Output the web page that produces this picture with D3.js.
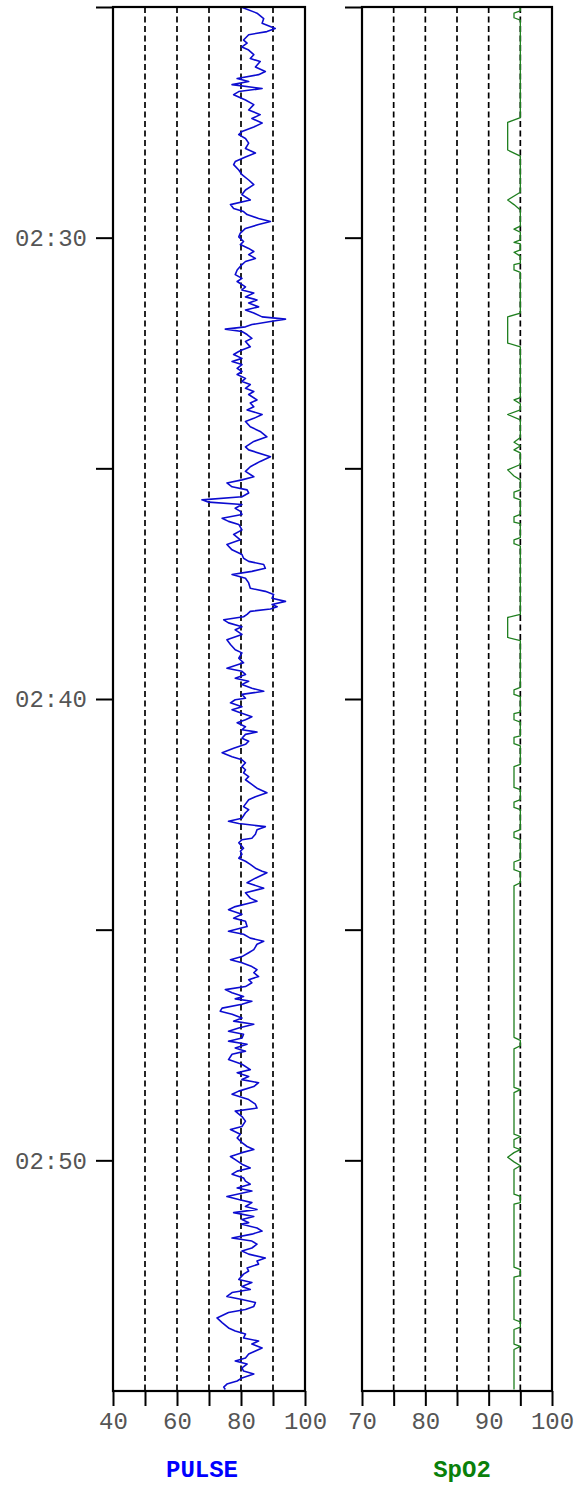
<!DOCTYPE html>
<html><head><meta charset="utf-8">
<script src="https://cdn.jsdelivr.net/npm/d3@7"></script>
<style>html,body{margin:0;padding:0;background:#fff;} svg{display:block}</style>
</head><body>
<svg id="chart" width="575" height="1485"></svg>
<script>
// ---- data ----
const timeStart = "02:25:00";
const timeEnd = "02:55:00";
const timeTicks = ["02:25:00","02:30:00","02:35:00","02:40:00","02:45:00","02:50:00"];
const timeLabels = ["02:30","02:40","02:50"];

const pulseDomain = [40, 100];
const pulseTicks = [40, 50, 60, 70, 80, 90, 100];
const pulseTickLabels = [40, 60, 80, 100];
const pulseGrid = [50, 60, 70, 80, 90];

const spo2Domain = [70, 100];
const spo2Ticks = [70, 75, 80, 85, 90, 95, 100];
const spo2TickLabels = [70, 80, 90, 100];
const spo2Grid = [75, 80, 85, 90, 95];

const seriesNames = ["PULSE", "SpO2"];

// [seconds after 02:25:00, beats per minute]
const pulseData = [
[0,80.0],[8,85.0],[15,87.1],[21,86.6],[28,90.7],[32,88.1],[36,82.4],[43,80.8],[47,81.9],[52,80.3],
[56,82.4],[62,84.0],[67,82.9],[71,86.0],[78,84.5],[84,87.6],[88,85.5],[93,78.8],[97,82.4],[101,77.2],
[106,86.6],[110,79.3],[114,77.7],[121,81.4],[127,84.0],[134,82.4],[140,86.0],[145,83.4],[151,86.6],[156,84.0],
[162,80.3],[166,79.3],[171,81.4],[177,82.4],[184,81.4],[190,84.5],[195,81.4],[201,78.2],[205,77.7],[212,79.3],
[218,80.3],[225,82.4],[231,84.0],[238,81.4],[244,80.3],[251,82.9],[257,76.7],[262,77.7],[266,80.8],[270,81.9],
[275,85.5],[279,89.2],[283,85.5],[288,81.4],[294,79.8],[299,79.3],[305,80.8],[309,79.8],[314,82.4],[318,84.0],
[322,82.4],[327,84.5],[331,81.4],[335,80.3],[342,78.8],[348,78.2],[353,80.3],[357,78.8],[364,81.4],[368,80.3],
[372,84.0],[377,81.4],[381,85.0],[385,82.4],[390,85.5],[394,81.4],[398,84.0],[403,86.6],[406,93.9],[409,89.2],
[413,83.4],[416,81.4],[419,75.1],[422,80.3],[426,81.9],[431,83.4],[435,81.4],[442,82.9],[446,80.3],[448,79.3],
[452,77.7],[457,80.3],[461,77.2],[465,80.3],[470,78.8],[474,80.3],[478,78.8],[483,81.4],[487,80.3],[491,82.9],
[496,81.4],[500,84.0],[504,82.4],[511,85.0],[515,82.9],[520,84.0],[524,81.9],[530,86.6],[535,84.0],[539,81.4],
[546,82.9],[552,86.0],[559,88.1],[565,84.0],[572,81.4],[576,82.4],[585,89.2],[591,86.0],[598,82.9],[604,81.4],
[611,84.0],[615,80.3],[619,75.6],[624,77.2],[628,81.9],[632,82.4],[637,80.3],[641,67.8],[644,69.9],[647,80.3],
[652,78.2],[656,79.8],[660,80.3],[665,74.1],[669,76.1],[673,79.3],[680,80.3],[686,77.7],[693,79.8],[699,75.6],
[706,77.2],[712,80.3],[717,80.8],[721,82.4],[725,87.1],[730,87.6],[734,83.4],[738,77.2],[743,81.4],[749,82.4],
[756,82.9],[760,87.6],[764,90.2],[769,89.7],[773,93.9],[777,89.7],[780,91.3],[783,89.2],[786,82.9],[790,81.9],
[793,80.8],[797,74.6],[801,76.1],[806,80.3],[810,78.2],[816,80.3],[823,75.6],[829,76.7],[836,78.2],[840,80.3],
[847,79.3],[853,80.8],[860,75.6],[864,80.3],[868,81.4],[873,78.2],[877,82.4],[881,80.3],[886,83.4],[890,87.1],
[894,80.3],[899,81.4],[901,78.2],[905,76.7],[910,80.3],[914,77.2],[918,79.8],[923,83.4],[927,81.4],[931,78.8],
[936,81.4],[940,80.3],[943,85.0],[946,81.4],[951,80.3],[955,82.4],[959,81.4],[964,77.7],[970,74.1],[975,77.2],
[979,80.3],[983,81.4],[988,80.3],[992,81.4],[996,80.8],[1001,82.4],[1005,81.4],[1011,83.4],[1016,85.0],[1022,88.1],
[1027,84.5],[1031,82.4],[1040,80.8],[1044,82.4],[1048,81.4],[1055,80.3],[1059,76.1],[1062,79.3],[1066,87.6],[1070,85.0],
[1076,84.5],[1081,83.4],[1083,80.3],[1087,79.3],[1094,80.8],[1098,79.8],[1102,80.3],[1107,79.3],[1111,81.4],[1115,82.9],
[1120,84.5],[1124,86.6],[1126,88.1],[1133,84.5],[1139,81.9],[1146,87.1],[1152,81.4],[1159,82.9],[1163,85.0],[1170,78.2],
[1174,76.1],[1180,80.3],[1185,77.7],[1189,81.4],[1196,81.9],[1202,76.1],[1206,80.8],[1211,82.9],[1215,87.1],[1219,85.0],
[1226,84.0],[1230,82.4],[1235,80.3],[1239,76.7],[1243,80.3],[1248,83.4],[1252,85.0],[1256,84.0],[1261,85.5],[1265,82.4],
[1269,83.4],[1274,81.4],[1278,75.1],[1282,77.2],[1287,80.8],[1290,78.2],[1293,83.4],[1297,80.3],[1302,74.1],[1306,73.5],
[1310,77.2],[1315,80.3],[1319,77.7],[1323,84.0],[1328,79.3],[1332,76.1],[1336,80.8],[1341,80.3],[1345,76.1],[1349,81.9],
[1354,78.2],[1358,81.4],[1362,77.2],[1369,76.1],[1375,80.3],[1382,82.9],[1386,78.8],[1391,82.4],[1395,80.3],[1399,85.5],
[1404,84.0],[1410,79.3],[1414,77.2],[1421,82.4],[1427,84.5],[1432,85.0],[1436,78.2],[1443,80.3],[1449,81.4],[1456,80.3],
[1460,76.7],[1466,79.8],[1471,78.8],[1477,80.3],[1482,81.9],[1486,84.0],[1490,80.3],[1495,76.7],[1499,78.2],[1505,80.3],
[1510,82.9],[1514,78.8],[1518,77.2],[1523,80.8],[1527,81.4],[1531,82.9],[1536,78.8],[1540,83.4],[1547,75.6],[1551,79.3],
[1555,83.4],[1560,81.4],[1564,85.0],[1568,77.7],[1573,84.0],[1577,80.3],[1581,82.4],[1583,80.3],[1588,85.0],[1592,86.6],
[1596,83.4],[1601,77.2],[1605,83.4],[1609,85.0],[1614,83.4],[1618,80.3],[1622,82.4],[1627,87.6],[1631,85.0],[1635,85.5],
[1640,81.9],[1644,82.4],[1648,80.8],[1655,79.3],[1659,83.4],[1664,80.3],[1668,82.9],[1672,77.2],[1677,75.6],[1681,80.3],
[1685,84.5],[1690,84.0],[1694,81.4],[1698,76.1],[1705,72.5],[1711,74.1],[1718,76.1],[1722,78.2],[1726,81.4],[1731,80.8],
[1735,85.5],[1739,83.4],[1744,86.6],[1748,84.5],[1752,82.4],[1757,81.4],[1761,78.2],[1765,81.9],[1770,80.3],[1774,80.8],
[1778,84.0],[1783,80.3],[1787,78.8],[1791,75.6],[1795,74.6],[1798,75.1]
];

// [seconds after 02:25:00, percent]
const spo2Data = [
[0,95],[5,95],[8,94],[14,94],[17,95],[144,95],[150,93],[186,93],[190,94],[194,95],
[241,95],[251,93],[257,94],[264,95],[285,95],[289,94],[293,95],[303,95],[306,94],[308,95],
[316,95],[319,94],[324,95],[333,95],[335,94],[342,94],[345,95],[398,95],[403,93],[437,93],
[442,95],[508,95],[511,94],[516,95],[524,95],[530,93],[537,95],[560,95],[566,94],[571,95],
[576,94],[580,95],[595,95],[602,93],[610,94],[615,95],[628,95],[631,94],[638,94],[641,95],
[660,95],[663,94],[670,94],[672,95],[690,95],[693,94],[698,94],[701,95],[790,95],[794,93],
[820,93],[824,95],[885,95],[888,94],[894,94],[897,95],[917,95],[919,94],[927,94],[930,95],
[948,95],[950,94],[958,94],[961,95],[985,95],[988,94],[1015,94],[1018,95],[1031,95],[1034,94],
[1041,94],[1044,95],[1070,95],[1073,94],[1080,94],[1083,95],[1109,95],[1112,94],[1122,94],[1125,95],
[1139,95],[1143,94],[1340,94],[1344,95],[1351,95],[1355,94],[1405,94],[1408,95],[1412,94],[1466,94],
[1469,95],[1473,94],[1483,94],[1486,95],[1490,94],[1496,93],[1502,94],[1507,95],[1512,94],[1544,94],
[1547,95],[1555,95],[1557,94],[1639,94],[1642,95],[1650,95],[1652,94],[1707,94],[1710,95],[1717,95],
[1720,94],[1739,94],[1742,95],[1746,94],[1798,94]
];

// ---- drawing ----
const svg = d3.select("#chart");
const parseT = d3.timeParse("%H:%M:%S");
const t0 = parseT(timeStart);
const t1 = parseT(timeEnd);
const toDate = s => new Date(t0.getTime() + s * 1000);
const fmt = d3.timeFormat("%H:%M");

const yTop = 7, yBottom = 1391;
const y = d3.scaleTime().domain([t0, t1]).range([yTop, yBottom]);

const panels = [
  {name: seriesNames[0], x: d3.scaleLinear().domain(pulseDomain).range([113, 305]),
   ticks: pulseTicks, labels: pulseTickLabels, grid: pulseGrid, data: pulseData,
   color: "#0c0cd0", width: 1.6, labelColor: "#0000ff", showTimeLabels: true, titleX: 202},
  {name: seriesNames[1], x: d3.scaleLinear().domain(spo2Domain).range([362, 552]),
   ticks: spo2Ticks, labels: spo2TickLabels, grid: spo2Grid, data: spo2Data,
   color: "#1f7f1f", width: 1.3, labelColor: "#0a800a", showTimeLabels: false, titleX: 462}
];

const font = "'Liberation Mono', 'DejaVu Sans Mono', monospace";
const defs = svg.append("defs");

panels.forEach((p, i) => {
  const g = svg.append("g");
  const [x0, x1] = p.x.range();
  const clipId = "clip" + i;
  defs.append("clipPath").attr("id", clipId)
    .append("rect").attr("x", x0).attr("y", yTop).attr("width", x1 - x0).attr("height", yBottom - yTop);

  // dashed grid
  g.selectAll("line.grid").data(p.grid).join("line")
    .attr("class", "grid")
    .attr("x1", d => p.x(d)).attr("x2", d => p.x(d))
    .attr("y1", yTop).attr("y2", yBottom)
    .attr("stroke", "#000").attr("stroke-width", 1.7)
    .attr("stroke-dasharray", "6,3.5");

  // series line
  const line = d3.line()
    .x(d => p.x(d[1]))
    .y(d => y(toDate(d[0])));
  g.append("path")
    .datum(p.data)
    .attr("clip-path", `url(#${clipId})`)
    .attr("fill", "none")
    .attr("stroke", p.color)
    .attr("stroke-width", p.width)
    .attr("stroke-linejoin", "round")
    .attr("d", line);

  // frame
  g.append("rect")
    .attr("x", x0).attr("y", yTop).attr("width", x1 - x0).attr("height", yBottom - yTop)
    .attr("fill", "none").attr("stroke", "#000").attr("stroke-width", 2.2);

  // left time axis
  const yAxis = d3.axisLeft(y)
    .tickValues(timeTicks.map(parseT))
    .tickSize(17).tickPadding(9)
    .tickFormat(d => (p.showTimeLabels && timeLabels.includes(fmt(d))) ? fmt(d) : "");
  const ya = svg.append("g").attr("transform", `translate(${x0},0)`).call(yAxis);
  ya.select(".domain").remove();
  ya.selectAll(".tick line").attr("stroke", "#000").attr("stroke-width", 2);
  ya.selectAll(".tick text").attr("font-family", font).attr("font-size", 24)
    .attr("fill", "#555");

  // bottom value axis
  const xAxis = d3.axisBottom(p.x)
    .tickValues(p.ticks)
    .tickSize(15).tickPadding(6)
    .tickFormat(d => p.labels.includes(d) ? String(d) : "");
  const xa = svg.append("g").attr("transform", `translate(0,${yBottom})`).call(xAxis);
  xa.select(".domain").remove();
  xa.selectAll(".tick line").attr("stroke", "#000").attr("stroke-width", 2);
  xa.selectAll(".tick text").attr("font-family", font).attr("font-size", 24)
    .attr("fill", "#555");

  // series title
  svg.append("text")
    .attr("x", p.titleX).attr("y", 1477)
    .attr("text-anchor", "middle")
    .attr("font-family", font).attr("font-size", 24).attr("font-weight", "bold")
    .attr("fill", p.labelColor)
    .text(p.name);
});
</script>
</body></html>
